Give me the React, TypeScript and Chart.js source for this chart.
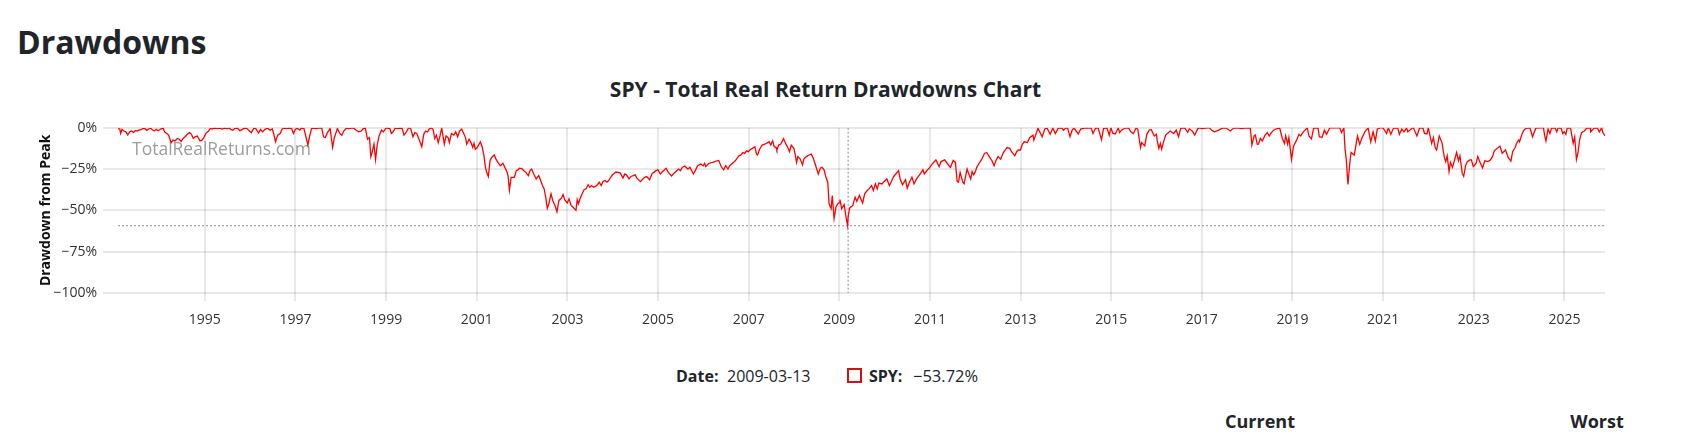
import React, { useEffect, useRef } from "react";
import { Chart, registerables } from "chart.js";

Chart.register(...registerables);

const PAGE_TITLE = "Drawdowns";
const CHART_TITLE = "SPY - Total Real Return Drawdowns Chart";
const Y_TITLE = "Drawdown from Peak";
const WATERMARK = "TotalRealReturns.com";
const SERIES_NAME = "SPY";
const HOVER_DATE = "2009-03-13";
const HOVER_VALUE = "\u221253.72%";
const WORST_DRAWDOWN = -59.3;
const TICK_YEARS = [1995, 1997, 1999, 2001, 2003, 2005, 2007, 2009, 2011, 2013, 2015, 2017, 2019, 2021, 2023, 2025];
const Y_TICKS = [0, -25, -50, -75, -100];
const TABLE_HEADERS = ["Current", "Worst"];

// Drawdown from peak (%), [date, value]
const DRAWDOWNS: [string, number][] = [
  ["1993-02-01", -0.5], ["1993-02-15", -0.8], ["1993-02-22", -3.5], ["1993-03-05", -1], ["1993-03-20", -2],
  ["1993-04-05", -2.5], ["1993-04-20", -4.4], ["1993-05-05", -2.5], ["1993-05-20", -2], ["1993-06-05", -2.8],
  ["1993-06-20", -1.8], ["1993-07-05", -2], ["1993-07-20", -1.5], ["1993-08-05", -1.2], ["1993-08-20", -0.5],
  ["1993-09-05", -0.6], ["1993-09-20", -1.6], ["1993-10-05", -0.8], ["1993-10-20", -0.3], ["1993-11-05", -1.2],
  ["1993-11-20", -2], ["1993-12-05", -1], ["1993-12-20", -1.8],
  ["1994-01-10", -0.8], ["1994-01-31", -0.2], ["1994-02-10", -2.5], ["1994-03-01", -3.5], ["1994-03-15", -4.5],
  ["1994-04-04", -9], ["1994-04-20", -7.5], ["1994-05-05", -8], ["1994-05-25", -6.5], ["1994-06-10", -7],
  ["1994-06-24", -8.3], ["1994-07-10", -6.5], ["1994-07-25", -5.5], ["1994-08-15", -3.8], ["1994-08-31", -3],
  ["1994-09-15", -4], ["1994-09-30", -6.5], ["1994-10-15", -5.5], ["1994-11-01", -5], ["1994-11-23", -8],
  ["1994-12-08", -7.5], ["1994-12-20", -6.5],
  ["1995-01-10", -3.4], ["1995-01-31", -2], ["1995-02-15", -0.4], ["1995-03-01", -0.8], ["1995-03-20", -0.2],
  ["1995-04-10", -0.5], ["1995-05-01", -0.3], ["1995-05-20", -0.8], ["1995-06-10", -0.2], ["1995-06-30", -0.6],
  ["1995-07-15", -0.2], ["1995-07-31", -1.2], ["1995-08-15", -1.5], ["1995-09-01", -0.4], ["1995-09-20", -0.2],
  ["1995-10-10", -1.8], ["1995-10-31", -1], ["1995-11-15", -0.2], ["1995-12-05", -0.4], ["1995-12-20", -1.6],
  ["1996-01-10", -3], ["1996-01-31", -0.3], ["1996-02-15", -0.5], ["1996-03-08", -3.2], ["1996-03-25", -1],
  ["1996-04-10", -2.5], ["1996-04-30", -1], ["1996-05-20", -0.3], ["1996-06-10", -1.5], ["1996-06-28", -0.8],
  ["1996-07-10", -4], ["1996-07-24", -8.5], ["1996-08-10", -4.5], ["1996-08-30", -3.5], ["1996-09-15", -0.8],
  ["1996-10-01", -0.3], ["1996-10-20", -0.5], ["1996-11-10", -0.2], ["1996-11-30", -0.4], ["1996-12-16", -3.5],
  ["1996-12-31", -1],
  ["1997-01-15", -0.3], ["1997-02-05", -1.5], ["1997-02-18", -0.2], ["1997-03-10", -0.5], ["1997-03-31", -7],
  ["1997-04-11", -10.5], ["1997-04-25", -5], ["1997-05-10", -0.6], ["1997-05-30", -0.3], ["1997-06-15", -0.5],
  ["1997-07-05", -0.2], ["1997-07-31", -0.1], ["1997-08-15", -5.5], ["1997-08-29", -6], ["1997-09-15", -3],
  ["1997-10-07", -0.5], ["1997-10-27", -11.9], ["1997-11-10", -6], ["1997-11-28", -2], ["1997-12-05", -0.5],
  ["1997-12-24", -3.5],
  ["1998-01-09", -4.5], ["1998-01-25", -2], ["1998-02-15", -0.3], ["1998-03-05", -0.5], ["1998-03-25", -0.2],
  ["1998-04-15", -0.3], ["1998-05-05", -1.5], ["1998-05-25", -2.5], ["1998-06-15", -2], ["1998-07-01", -0.5],
  ["1998-07-17", -0.1], ["1998-08-04", -7], ["1998-08-20", -6], ["1998-08-31", -17.5], ["1998-09-10", -15],
  ["1998-09-25", -10], ["1998-10-08", -19.3], ["1998-10-20", -11], ["1998-11-05", -5], ["1998-11-25", -1.5],
  ["1998-12-10", -2.5], ["1998-12-31", -0.3],
  ["1999-01-10", -0.2], ["1999-01-31", -0.5], ["1999-02-12", -3.5], ["1999-02-26", -2.5], ["1999-03-15", -0.3],
  ["1999-04-05", -0.5], ["1999-04-20", -0.2], ["1999-05-10", -0.4], ["1999-05-25", -4.5], ["1999-06-10", -3],
  ["1999-06-30", -0.2], ["1999-07-16", -0.1], ["1999-08-05", -5.5], ["1999-08-20", -3], ["1999-09-05", -3.5],
  ["1999-09-25", -7.5], ["1999-10-15", -11.5], ["1999-10-31", -4], ["1999-11-15", -2], ["1999-11-30", -2.5],
  ["1999-12-15", -0.8], ["1999-12-31", -0.1],
  ["2000-01-14", -1], ["2000-01-28", -6.5], ["2000-02-10", -4.5], ["2000-02-25", -9], ["2000-03-10", -5],
  ["2000-03-24", -0.2], ["2000-04-14", -10], ["2000-04-28", -5], ["2000-05-15", -6], ["2000-05-25", -9],
  ["2000-06-10", -3.5], ["2000-06-30", -4.5], ["2000-07-15", -2.5], ["2000-07-31", -5.5], ["2000-08-15", -2],
  ["2000-09-01", -0.8], ["2000-09-15", -3], ["2000-10-02", -6], ["2000-10-12", -10], ["2000-10-31", -7],
  ["2000-11-15", -9], ["2000-11-30", -12], ["2000-12-10", -9.5], ["2000-12-20", -13],
  ["2001-01-05", -12], ["2001-01-30", -8.5], ["2001-02-15", -12], ["2001-02-28", -17], ["2001-03-12", -24],
  ["2001-03-22", -27], ["2001-04-04", -29.5], ["2001-04-18", -20], ["2001-05-01", -18], ["2001-05-21", -16.5],
  ["2001-06-05", -19], ["2001-06-20", -21], ["2001-07-10", -23], ["2001-07-31", -21.5], ["2001-08-15", -24],
  ["2001-08-31", -26.5], ["2001-09-10", -29], ["2001-09-21", -37.7], ["2001-10-05", -30], ["2001-10-31", -30],
  ["2001-11-15", -26], ["2001-11-30", -25.5], ["2001-12-10", -24.5], ["2001-12-31", -24.8],
  ["2002-01-15", -26], ["2002-01-31", -27], ["2002-02-20", -29], ["2002-03-05", -26], ["2002-03-19", -25],
  ["2002-04-05", -28], ["2002-04-25", -31], ["2002-05-15", -29], ["2002-05-31", -32], ["2002-06-14", -35],
  ["2002-06-28", -37], ["2002-07-10", -42], ["2002-07-23", -48.8], ["2002-08-05", -46], ["2002-08-22", -40],
  ["2002-09-05", -44], ["2002-09-25", -47.5], ["2002-10-09", -50.8], ["2002-10-25", -44], ["2002-11-15", -42.5],
  ["2002-11-27", -40.5], ["2002-12-10", -43.5], ["2002-12-31", -45.5],
  ["2003-01-14", -43], ["2003-01-31", -47], ["2003-02-14", -48], ["2003-03-11", -50], ["2003-03-21", -43.5],
  ["2003-03-31", -46], ["2003-04-15", -42.5], ["2003-04-30", -40], ["2003-05-15", -37.5], ["2003-05-31", -37],
  ["2003-06-17", -34.5], ["2003-06-30", -36], ["2003-07-15", -35], ["2003-07-31", -36], ["2003-08-15", -35.5],
  ["2003-08-31", -34.5], ["2003-09-15", -33], ["2003-09-30", -35], ["2003-10-15", -32.5], ["2003-10-31", -32],
  ["2003-11-15", -33], ["2003-11-30", -32], ["2003-12-15", -30], ["2003-12-31", -28.5],
  ["2004-01-15", -27.5], ["2004-01-26", -26.8], ["2004-02-11", -27], ["2004-03-01", -27.3], ["2004-03-24", -30.5],
  ["2004-04-07", -28], ["2004-04-21", -28.5], ["2004-05-12", -31], ["2004-05-28", -29.5], ["2004-06-15", -29],
  ["2004-06-30", -28.5], ["2004-07-15", -30.5], ["2004-08-12", -32.6], ["2004-08-31", -31], ["2004-09-15", -30],
  ["2004-10-01", -29.5], ["2004-10-25", -31.5], ["2004-11-15", -27.5], ["2004-11-30", -27], ["2004-12-15", -26],
  ["2004-12-31", -25.5],
  ["2005-01-20", -28], ["2005-02-07", -26.5], ["2005-03-07", -24.5], ["2005-03-25", -27], ["2005-04-20", -29.2],
  ["2005-05-10", -27.5], ["2005-05-31", -26], ["2005-06-15", -25], ["2005-06-30", -26], ["2005-07-15", -24],
  ["2005-08-03", -23.2], ["2005-08-30", -25], ["2005-09-15", -24], ["2005-10-13", -28], ["2005-10-31", -25.5],
  ["2005-11-15", -23], ["2005-12-12", -22], ["2005-12-31", -23],
  ["2006-01-11", -21.5], ["2006-01-20", -23.5], ["2006-02-15", -21.5], ["2006-03-15", -21], ["2006-04-05", -20.5],
  ["2006-04-20", -20], ["2006-05-05", -19.8], ["2006-05-24", -23.5], ["2006-06-13", -25.5], ["2006-06-30", -23],
  ["2006-07-18", -25], ["2006-08-01", -23], ["2006-08-31", -21], ["2006-09-15", -20], ["2006-09-29", -18.5],
  ["2006-10-15", -17], ["2006-10-31", -16.5], ["2006-11-15", -15], ["2006-11-30", -15.5], ["2006-12-15", -14],
  ["2006-12-29", -14.5],
  ["2007-01-15", -13.2], ["2007-01-31", -12.5], ["2007-02-20", -11.6], ["2007-03-05", -16], ["2007-03-14", -16.5],
  ["2007-03-30", -13], ["2007-04-20", -10.5], ["2007-05-10", -10], ["2007-05-31", -9.2], ["2007-06-15", -8.5],
  ["2007-06-28", -10.5], ["2007-07-13", -8], ["2007-07-26", -11.5], ["2007-08-10", -12], ["2007-08-16", -13.5],
  ["2007-08-31", -10.5], ["2007-09-15", -10], ["2007-09-30", -8], ["2007-10-09", -6.6], ["2007-10-25", -9.5],
  ["2007-11-12", -12], ["2007-11-26", -14.5], ["2007-12-10", -10.5], ["2007-12-31", -12.5],
  ["2008-01-10", -16], ["2008-01-22", -21], ["2008-02-01", -17.5], ["2008-02-20", -19], ["2008-03-10", -22.5],
  ["2008-03-20", -19], ["2008-04-10", -17.5], ["2008-04-30", -16.5], ["2008-05-19", -16], ["2008-06-05", -18.5],
  ["2008-06-20", -22], ["2008-07-15", -28], ["2008-07-31", -24.5], ["2008-08-15", -24], ["2008-08-31", -25.5],
  ["2008-09-15", -30], ["2008-09-30", -33], ["2008-10-10", -46], ["2008-10-27", -49], ["2008-11-05", -41],
  ["2008-11-20", -55], ["2008-12-05", -48], ["2008-12-20", -46], ["2008-12-31", -45.5],
  ["2009-01-06", -43.5], ["2009-01-20", -49], ["2009-02-09", -46.5], ["2009-02-23", -53.5], ["2009-03-09", -59.3],
  ["2009-03-13", -53.72], ["2009-03-26", -48.5], ["2009-04-20", -47], ["2009-05-08", -42], ["2009-05-22", -44.5],
  ["2009-06-12", -41], ["2009-07-08", -45.6], ["2009-07-24", -40], ["2009-08-14", -38], ["2009-08-28", -37],
  ["2009-09-18", -35], ["2009-10-02", -38], ["2009-10-19", -34], ["2009-11-02", -37], ["2009-11-16", -33.5],
  ["2009-12-10", -34], ["2009-12-28", -32.5],
  ["2010-01-19", -31], ["2010-02-08", -35], ["2010-02-25", -32.5], ["2010-03-15", -29.5], ["2010-04-01", -28],
  ["2010-04-23", -26], ["2010-05-06", -31], ["2010-05-25", -34.5], ["2010-06-18", -31.5], ["2010-07-02", -36.6],
  ["2010-07-20", -33], ["2010-08-09", -30], ["2010-08-26", -34], ["2010-09-15", -31], ["2010-09-30", -29.5],
  ["2010-10-15", -28], ["2010-11-05", -25.5], ["2010-11-16", -28], ["2010-12-01", -26.5], ["2010-12-31", -24],
  ["2011-01-18", -22], ["2011-02-18", -19.5], ["2011-03-16", -23.5], ["2011-04-01", -20.5], ["2011-04-29", -19.5],
  ["2011-05-20", -21.5], ["2011-06-15", -24], ["2011-07-07", -19.8], ["2011-07-25", -21], ["2011-08-08", -32.5],
  ["2011-08-19", -33], ["2011-09-01", -27], ["2011-09-22", -33], ["2011-10-03", -34], ["2011-10-27", -25],
  ["2011-11-10", -28], ["2011-11-25", -31], ["2011-12-07", -26.5], ["2011-12-19", -28.5], ["2011-12-31", -27],
  ["2012-01-13", -24], ["2012-02-01", -21.5], ["2012-02-20", -19.5], ["2012-03-15", -15.6], ["2012-04-02", -15],
  ["2012-04-23", -17.5], ["2012-05-15", -20], ["2012-06-01", -23], ["2012-06-15", -20], ["2012-07-03", -17.5],
  ["2012-07-24", -19], ["2012-08-15", -15], ["2012-09-14", -12], ["2012-10-05", -12.5], ["2012-10-25", -15],
  ["2012-11-15", -17], ["2012-11-30", -14.5], ["2012-12-14", -13.5], ["2012-12-31", -13.5],
  ["2013-01-15", -10], ["2013-01-31", -8.5], ["2013-02-25", -9], ["2013-03-15", -6], ["2013-04-11", -4.5],
  ["2013-04-18", -7.5], ["2013-05-21", -0.3], ["2013-06-24", -5.5], ["2013-07-15", -0.8], ["2013-08-02", -0.2],
  ["2013-08-27", -4], ["2013-09-18", -0.2], ["2013-10-08", -3.5], ["2013-10-31", -0.4], ["2013-11-29", -0.1],
  ["2013-12-13", -1.5], ["2013-12-31", -0.1],
  ["2014-01-15", -0.3], ["2014-02-03", -5.5], ["2014-02-20", -1.5], ["2014-03-07", -0.2], ["2014-04-11", -3.8],
  ["2014-04-30", -0.8], ["2014-05-15", -0.5], ["2014-06-10", -0.1], ["2014-07-01", -0.3], ["2014-07-24", -0.1],
  ["2014-08-07", -3.5], ["2014-08-29", -0.1], ["2014-09-18", -0.2], ["2014-10-15", -7.2], ["2014-10-31", -0.5],
  ["2014-11-28", -0.1], ["2014-12-16", -4.5], ["2014-12-29", -0.1],
  ["2015-01-15", -3.5], ["2015-02-02", -3.8], ["2015-02-27", -0.2], ["2015-03-10", -3], ["2015-03-25", -1.5],
  ["2015-04-24", -0.2], ["2015-05-21", -0.1], ["2015-06-08", -2.5], ["2015-06-29", -3.5], ["2015-07-20", -0.2],
  ["2015-08-03", -1], ["2015-08-25", -12], ["2015-09-03", -9], ["2015-09-28", -11], ["2015-10-15", -4],
  ["2015-11-03", -1.5], ["2015-11-20", -1.2], ["2015-12-14", -5], ["2015-12-31", -4],
  ["2016-01-07", -8], ["2016-01-20", -12.5], ["2016-02-01", -9.5], ["2016-02-11", -13], ["2016-02-29", -8],
  ["2016-03-15", -4.5], ["2016-04-20", -2], ["2016-05-19", -3.5], ["2016-06-08", -1.5], ["2016-06-27", -5.5],
  ["2016-07-15", -0.2], ["2016-08-15", -0.1], ["2016-09-09", -2.8], ["2016-09-22", -0.8], ["2016-10-15", -2],
  ["2016-11-04", -4.5], ["2016-11-30", -0.5], ["2016-12-13", -0.1], ["2016-12-30", -0.6],
  ["2017-01-15", -0.4], ["2017-02-15", -0.1], ["2017-03-01", -0.1], ["2017-03-27", -1.8], ["2017-04-13", -2.5],
  ["2017-05-17", -1.5], ["2017-06-19", -0.1], ["2017-07-15", -0.2], ["2017-08-10", -1.5], ["2017-08-18", -2],
  ["2017-09-15", -0.2], ["2017-10-15", -0.1], ["2017-11-15", -0.5], ["2017-12-15", -0.2], ["2017-12-29", -0.2],
  ["2018-01-26", -0.1], ["2018-02-08", -10.5], ["2018-02-26", -5], ["2018-03-08", -4.5], ["2018-03-23", -10.1],
  ["2018-04-02", -10], ["2018-04-17", -6.5], ["2018-05-03", -8], ["2018-05-25", -4.5], ["2018-06-12", -3],
  ["2018-06-28", -5], ["2018-07-15", -3], ["2018-08-01", -1.5], ["2018-08-29", -0.5], ["2018-09-20", -0.2],
  ["2018-10-11", -6.5], ["2018-10-29", -9.5], ["2018-11-07", -5], ["2018-11-23", -10], ["2018-12-03", -6],
  ["2018-12-24", -19.2],
  ["2019-01-10", -11], ["2019-01-31", -8], ["2019-02-22", -4], ["2019-03-08", -5], ["2019-03-29", -2.5],
  ["2019-04-30", -0.1], ["2019-05-13", -5], ["2019-06-03", -6.8], ["2019-06-20", -0.3], ["2019-07-26", -0.1],
  ["2019-08-05", -5.5], ["2019-08-14", -5.5], ["2019-08-26", -6], ["2019-09-15", -1.5], ["2019-10-02", -4],
  ["2019-10-28", -0.1], ["2019-11-29", -0.1], ["2019-12-27", -0.1],
  ["2020-01-17", -0.1], ["2020-01-31", -3], ["2020-02-19", -0.1], ["2020-02-28", -12.5], ["2020-03-09", -19],
  ["2020-03-23", -34.4], ["2020-04-06", -22], ["2020-04-17", -15], ["2020-05-13", -16.5], ["2020-06-08", -5],
  ["2020-06-26", -10], ["2020-07-15", -6], ["2020-08-10", -2], ["2020-09-02", -0.1], ["2020-09-23", -8.5],
  ["2020-10-12", -2.5], ["2020-10-30", -8], ["2020-11-15", -0.8], ["2020-12-08", -0.1], ["2020-12-31", -0.1],
  ["2021-01-29", -3.5], ["2021-02-12", -0.1], ["2021-03-04", -4], ["2021-03-26", -0.2], ["2021-04-29", -0.2],
  ["2021-05-12", -4], ["2021-06-01", -0.8], ["2021-06-18", -2.5], ["2021-07-09", -0.2], ["2021-07-19", -2.5],
  ["2021-08-27", -0.1], ["2021-09-02", -0.1], ["2021-09-30", -5], ["2021-10-21", -0.3], ["2021-11-18", -0.1],
  ["2021-11-30", -3.5], ["2021-12-20", -3.8], ["2021-12-31", -0.1],
  ["2022-01-04", -0.1], ["2022-01-27", -9.5], ["2022-02-10", -6], ["2022-02-24", -12], ["2022-03-08", -13.5],
  ["2022-03-29", -5], ["2022-04-20", -9], ["2022-05-09", -18], ["2022-05-20", -20.5], ["2022-06-01", -17],
  ["2022-06-16", -26.5], ["2022-06-27", -21], ["2022-07-14", -24], ["2022-08-16", -15], ["2022-08-31", -20],
  ["2022-09-12", -17], ["2022-09-30", -27.5], ["2022-10-12", -29.4], ["2022-10-27", -23], ["2022-11-10", -20.5],
  ["2022-11-30", -19.5], ["2022-12-13", -19.5], ["2022-12-28", -23.5],
  ["2023-01-05", -23], ["2023-01-20", -21.5], ["2023-02-02", -17.5], ["2023-02-21", -21], ["2023-03-13", -24.3],
  ["2023-03-31", -20], ["2023-04-25", -20.5], ["2023-05-15", -19.5], ["2023-06-01", -17.5], ["2023-06-15", -14],
  ["2023-07-31", -11.1], ["2023-08-18", -15.5], ["2023-09-14", -13.5], ["2023-10-05", -18], ["2023-10-27", -20.2],
  ["2023-11-10", -14.5], ["2023-11-30", -12], ["2023-12-15", -9], ["2023-12-29", -7.5],
  ["2024-01-05", -8.5], ["2024-01-24", -4], ["2024-02-09", -1.5], ["2024-02-26", -0.4], ["2024-03-15", -0.3],
  ["2024-03-28", -0.1], ["2024-04-19", -5.5], ["2024-05-15", -0.3], ["2024-06-18", -0.1], ["2024-07-16", -0.1],
  ["2024-07-25", -4.5], ["2024-08-05", -8], ["2024-08-22", -0.8], ["2024-09-06", -3.5], ["2024-09-19", -0.2],
  ["2024-10-18", -0.1], ["2024-10-31", -2.5], ["2024-11-11", -0.1], ["2024-12-06", -0.2], ["2024-12-18", -3.5],
  ["2024-12-31", -2.5],
  ["2025-01-13", -4], ["2025-01-23", -0.3], ["2025-02-19", -0.1], ["2025-03-13", -9.5], ["2025-03-25", -5.5],
  ["2025-04-08", -19.2], ["2025-04-21", -15], ["2025-05-02", -8], ["2025-05-19", -3], ["2025-06-10", -2],
  ["2025-06-30", -0.3], ["2025-07-28", -0.1], ["2025-08-01", -2.5], ["2025-08-28", -0.2], ["2025-09-22", -0.1],
  ["2025-10-10", -2.5], ["2025-10-28", -0.1], ["2025-11-07", -3], ["2025-11-20", -4.5], ["2025-11-24", -4],
];

const X_MIN_DATE = "1992-12-06";

function toYear(d: string): number {
  const [y, m, day] = d.split("-").map(Number);
  const t = Date.UTC(y, m - 1, day);
  const s = Date.UTC(y, 0, 1);
  const e = Date.UTC(y + 1, 0, 1);
  return y + (t - s) / (e - s);
}

const FONT = "'Open Sans', 'Noto Sans', sans-serif";
const TEXT = "#212529";

export default function App() {
  const ref = useRef<HTMLCanvasElement | null>(null);

  useEffect(() => {
    if (!ref.current) return;
    const points = DRAWDOWNS.map(([d, v]) => ({ x: toYear(d), y: v }));
    const xStart = points[0].x;
    const xEnd = points[points.length - 1].x;
    const hoverX = toYear(HOVER_DATE);

    const watermark = {
      id: "watermark",
      beforeDatasetsDraw(chart: any) {
        const { ctx, chartArea } = chart;
        ctx.save();
        ctx.font = `17.5px ${FONT}`;
        ctx.fillStyle = "#9d9d9d";
        ctx.textBaseline = "middle";
        ctx.textAlign = "left";
        ctx.fillText(WATERMARK, chartArea.left + 21, chartArea.top + 22.5);
        ctx.restore();
      },
    };

    const chart = new Chart(ref.current, {
      type: "line",
      data: {
        datasets: [
          {
            label: SERIES_NAME,
            data: points,
            borderColor: "#ff0000",
            backgroundColor: "#ff0000",
            borderWidth: 1.3,
            pointRadius: 0,
            tension: 0,
            order: 1,
          },
          {
            label: "worst",
            data: [
              { x: xStart, y: WORST_DRAWDOWN },
              { x: xEnd, y: WORST_DRAWDOWN },
            ],
            borderColor: "#858b93",
            borderWidth: 1,
            borderDash: [2, 2],
            pointRadius: 0,
            order: 2,
          },
          {
            label: "hover",
            data: [
              { x: hoverX, y: 0 },
              { x: hoverX, y: -100 },
            ],
            borderColor: "#858b93",
            borderWidth: 1,
            borderDash: [2, 2],
            pointRadius: 0,
            order: 2,
          },
        ],
      },
      options: {
        animation: false,
        responsive: false,
        parsing: false as any,
        normalized: true,
        layout: { padding: { top: 27.7, right: 55, bottom: 7, left: 0 } },
        plugins: {
          legend: { display: false },
          tooltip: { enabled: false },
          title: { display: false },
        },
        scales: {
          x: {
            type: "linear",
            min: toYear(X_MIN_DATE),
            max: xEnd,
            afterBuildTicks: (axis: any) => {
              axis.ticks = TICK_YEARS.map((v) => ({ value: v }));
            },
            afterFit: (s: any) => {
              s.height = 40;
            },
            ticks: {
              callback: (v: any) => String(v),
              color: "#333",
              font: { family: FONT, size: 14 },
              padding: 11,
              maxRotation: 0,
              autoSkip: false,
            },
            grid: { color: "rgba(0,0,0,0.09)", lineWidth: 2, tickLength: 8 },
            border: { display: false },
          },
          y: {
            type: "linear",
            min: -100,
            max: 0,
            afterBuildTicks: (axis: any) => {
              axis.ticks = Y_TICKS.map((v) => ({ value: v }));
            },
            afterFit: (s: any) => {
              s.width = 111;
            },
            ticks: {
              callback: (v: any) => (Number(v) < 0 ? "\u2212" + Math.abs(Number(v)) : String(v)) + "%",
              color: "#333",
              font: { family: FONT, size: 14 },
              padding: 6,
            },
            grid: { color: "rgba(0,0,0,0.09)", lineWidth: 2, tickLength: 8 },
            border: { display: false },
            title: {
              display: true,
              text: Y_TITLE,
              color: "#111",
              font: { family: FONT, size: 14, weight: "bold" },
              padding: { top: 38, bottom: 0 },
            },
          },
        },
      },
      plugins: [watermark],
    } as any);
    return () => chart.destroy();
  }, []);

  const abs = (extra: React.CSSProperties): React.CSSProperties => ({
    position: "absolute",
    fontFamily: FONT,
    color: TEXT,
    whiteSpace: "nowrap",
    ...extra,
  });

  return (
    <div>
      <div style={abs({ left: 17, top: 22, fontSize: 32, lineHeight: "40px", fontWeight: 700 })}>{PAGE_TITLE}</div>
      <div style={abs({ left: 0, width: 1651, top: 76, fontSize: 21, lineHeight: "26px", fontWeight: 700, textAlign: "center" })}>
        {CHART_TITLE}
      </div>
      <canvas
        ref={ref}
        width={1660}
        height={240}
        style={{ position: "absolute", left: 0, top: 100, width: 1660, height: 240 }}
      />
      <div style={abs({ left: 676, top: 366, fontSize: 16, lineHeight: "20px", fontWeight: 700 })}>Date:</div>
      <div style={abs({ left: 727, top: 366, fontSize: 16, lineHeight: "20px" })}>{HOVER_DATE}</div>
      <div
        style={{
          position: "absolute",
          left: 847,
          top: 368,
          width: 15,
          height: 15,
          boxSizing: "border-box",
          border: "2px solid #cc1414",
          background: "#fff",
        }}
      />
      <div style={abs({ left: 869, top: 366, fontSize: 16, lineHeight: "20px", fontWeight: 700 })}>{SERIES_NAME}:</div>
      <div style={abs({ left: 913, top: 366, fontSize: 16.5, lineHeight: "20px" })}>{HOVER_VALUE}</div>
      <div style={abs({ left: 1160, width: 200, top: 409, fontSize: 18, lineHeight: "24px", fontWeight: 700, textAlign: "center" })}>
        {TABLE_HEADERS[0]}
      </div>
      <div style={abs({ left: 1497, width: 200, top: 409, fontSize: 18, lineHeight: "24px", fontWeight: 700, textAlign: "center" })}>
        {TABLE_HEADERS[1]}
      </div>
    </div>
  );
}
